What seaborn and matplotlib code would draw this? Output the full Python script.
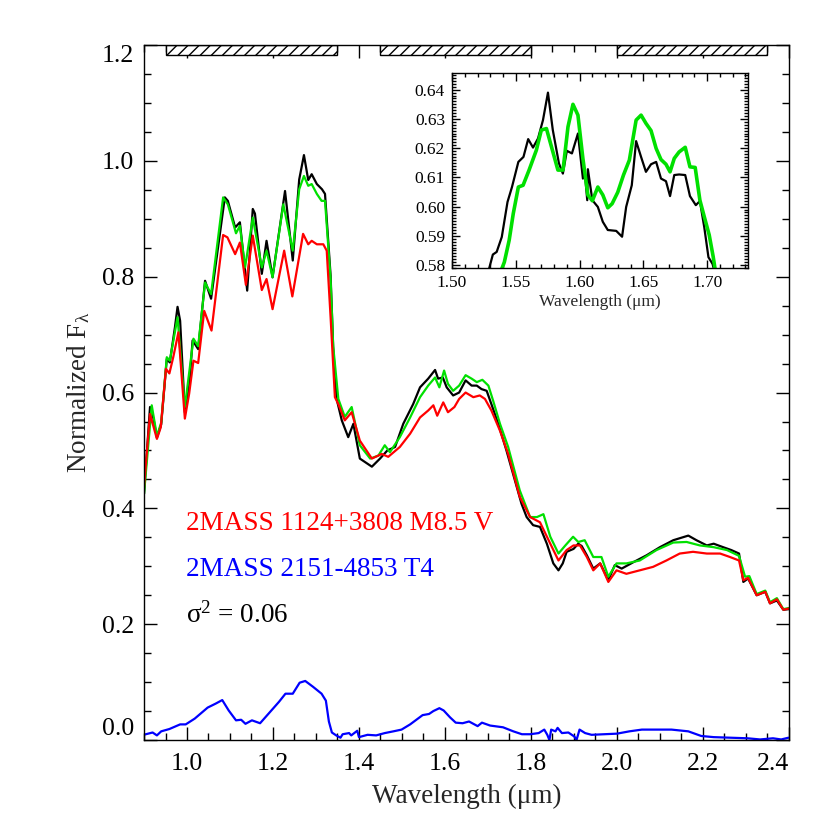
import matplotlib
matplotlib.use("Agg")
import matplotlib.pyplot as plt
from matplotlib.patches import Rectangle
from matplotlib.ticker import MultipleLocator
import seaborn as sns

# black: target spectrum, green: composite fit, red: M8.5 V standard, blue: T4 component
wl_black = [0.900, 0.914, 0.922, 0.930, 0.940, 0.953, 0.960, 0.972, 0.978, 0.984, 0.995, 1.005, 1.013,
            1.026, 1.042, 1.056, 1.088, 1.095, 1.112, 1.123, 1.140, 1.153, 1.158, 1.174, 1.185, 1.199,
            1.228, 1.246, 1.261, 1.272, 1.282, 1.290, 1.302, 1.314, 1.321, 1.334, 1.340, 1.348, 1.360,
            1.375, 1.387, 1.402, 1.414, 1.430, 1.449, 1.466, 1.484, 1.503, 1.526, 1.542, 1.561, 1.577,
            1.584, 1.595, 1.604, 1.619, 1.633, 1.648, 1.662, 1.674, 1.685, 1.697, 1.708, 1.724, 1.743,
            1.767, 1.778, 1.790, 1.805, 1.821, 1.837, 1.852, 1.864, 1.874, 1.883, 1.899, 1.910, 1.918,
            1.930, 1.945, 1.961, 1.980, 1.995, 2.011, 2.038, 2.069, 2.100, 2.131, 2.166, 2.185, 2.209,
            2.225, 2.247, 2.266, 2.284, 2.294, 2.305, 2.325, 2.345, 2.356, 2.372, 2.387, 2.400]
fl_black = [0.425, 0.575, 0.555, 0.522, 0.545, 0.658, 0.652, 0.713, 0.748, 0.724, 0.566, 0.610, 0.690,
            0.675, 0.793, 0.762, 0.937, 0.931, 0.885, 0.894, 0.776, 0.917, 0.909, 0.805, 0.862, 0.799,
            0.948, 0.828, 0.968, 1.010, 0.967, 0.977, 0.960, 0.951, 0.943, 0.802, 0.678, 0.589, 0.552,
            0.523, 0.546, 0.486, 0.480, 0.472, 0.486, 0.500, 0.506, 0.546, 0.580, 0.609, 0.624, 0.639,
            0.624, 0.626, 0.609, 0.595, 0.600, 0.621, 0.612, 0.612, 0.606, 0.603, 0.580, 0.546, 0.500,
            0.437, 0.408, 0.385, 0.371, 0.368, 0.339, 0.305, 0.293, 0.305, 0.325, 0.330, 0.339, 0.335,
            0.319, 0.296, 0.305, 0.276, 0.302, 0.296, 0.307, 0.319, 0.333, 0.345, 0.353, 0.345, 0.336,
            0.339, 0.333, 0.328, 0.322, 0.273, 0.279, 0.250, 0.256, 0.236, 0.241, 0.225, 0.226]

wl_green = [0.900, 0.918, 0.930, 0.940, 0.953, 0.960, 0.978, 0.995, 1.015, 1.026, 1.042, 1.056, 1.084,
            1.095, 1.114, 1.123, 1.135, 1.153, 1.174, 1.185, 1.199, 1.224, 1.246, 1.261, 1.272, 1.282,
            1.290, 1.302, 1.313, 1.321, 1.334, 1.340, 1.352, 1.367, 1.383, 1.402, 1.426, 1.445, 1.460,
            1.472, 1.495, 1.519, 1.542, 1.561, 1.577, 1.587, 1.598, 1.607, 1.619, 1.633, 1.648, 1.662,
            1.674, 1.687, 1.701, 1.712, 1.728, 1.747, 1.774, 1.798, 1.814, 1.829, 1.845, 1.864, 1.880,
            1.898, 1.910, 1.925, 1.945, 1.964, 1.980, 1.999, 2.022, 2.053, 2.092, 2.131, 2.162, 2.193,
            2.225, 2.256, 2.284, 2.298, 2.308, 2.325, 2.345, 2.356, 2.372, 2.387, 2.400]
fl_green = [0.425, 0.578, 0.525, 0.548, 0.661, 0.655, 0.730, 0.575, 0.693, 0.680, 0.790, 0.770, 0.937,
            0.925, 0.875, 0.888, 0.816, 0.902, 0.816, 0.845, 0.799, 0.925, 0.845, 0.951, 0.974, 0.957,
            0.960, 0.943, 0.931, 0.931, 0.796, 0.680, 0.589, 0.558, 0.575, 0.509, 0.486, 0.491, 0.509,
            0.497, 0.523, 0.557, 0.592, 0.612, 0.626, 0.609, 0.638, 0.615, 0.603, 0.612, 0.630, 0.624,
            0.618, 0.622, 0.612, 0.586, 0.546, 0.506, 0.431, 0.385, 0.385, 0.390, 0.351, 0.322, 0.336,
            0.351, 0.342, 0.345, 0.316, 0.316, 0.282, 0.305, 0.305, 0.310, 0.328, 0.341, 0.342, 0.336,
            0.333, 0.328, 0.318, 0.282, 0.283, 0.252, 0.258, 0.238, 0.245, 0.226, 0.228]

wl_red = [0.898, 0.914, 0.930, 0.939, 0.951, 0.959, 0.968, 0.980, 0.995, 1.005, 1.015, 1.026, 1.040,
          1.057, 1.084, 1.094, 1.112, 1.123, 1.137, 1.153, 1.174, 1.185, 1.199, 1.226, 1.245, 1.270,
          1.282, 1.290, 1.302, 1.317, 1.325, 1.334, 1.344, 1.352, 1.367, 1.383, 1.402, 1.430, 1.453,
          1.468, 1.495, 1.519, 1.542, 1.561, 1.573, 1.582, 1.596, 1.607, 1.622, 1.633, 1.648, 1.666,
          1.681, 1.693, 1.708, 1.728, 1.747, 1.774, 1.798, 1.821, 1.845, 1.864, 1.883, 1.899, 1.914,
          1.930, 1.945, 1.961, 1.980, 1.999, 2.022, 2.053, 2.084, 2.115, 2.146, 2.177, 2.209, 2.240,
          2.263, 2.284, 2.294, 2.305, 2.325, 2.345, 2.356, 2.372, 2.387, 2.400]
fl_red = [0.419, 0.563, 0.520, 0.540, 0.641, 0.633, 0.661, 0.704, 0.555, 0.598, 0.655, 0.651, 0.741,
          0.707, 0.872, 0.868, 0.839, 0.859, 0.786, 0.871, 0.777, 0.796, 0.744, 0.845, 0.766, 0.874,
          0.856, 0.862, 0.856, 0.856, 0.845, 0.730, 0.592, 0.580, 0.552, 0.566, 0.517, 0.486, 0.494,
          0.489, 0.506, 0.529, 0.557, 0.569, 0.578, 0.560, 0.583, 0.566, 0.575, 0.589, 0.600, 0.592,
          0.595, 0.589, 0.569, 0.534, 0.494, 0.420, 0.385, 0.376, 0.339, 0.310, 0.328, 0.336, 0.336,
          0.316, 0.293, 0.305, 0.273, 0.293, 0.287, 0.293, 0.299, 0.310, 0.322, 0.325, 0.322, 0.322,
          0.316, 0.310, 0.276, 0.280, 0.250, 0.256, 0.236, 0.243, 0.225, 0.227]

wl_blue = [0.899, 0.920, 0.930, 0.940, 0.959, 0.984, 0.997, 1.018, 1.048, 1.067, 1.082, 1.097, 1.114,
           1.126, 1.136, 1.151, 1.170, 1.195, 1.214, 1.229, 1.246, 1.262, 1.275, 1.293, 1.313, 1.323,
           1.330, 1.337, 1.347, 1.357, 1.362, 1.377, 1.382, 1.396, 1.400, 1.420, 1.440, 1.460, 1.480,
           1.499, 1.519, 1.548, 1.563, 1.573, 1.587, 1.597, 1.612, 1.625, 1.641, 1.656, 1.676, 1.686,
           1.705, 1.735, 1.759, 1.779, 1.798, 1.818, 1.831, 1.838, 1.843, 1.847, 1.857, 1.862, 1.872,
           1.887, 1.901, 1.906, 1.913, 1.926, 1.941, 1.970, 2.000, 2.029, 2.058, 2.088, 2.127, 2.166,
           2.196, 2.225, 2.264, 2.304, 2.333, 2.363, 2.382, 2.399]
fl_blue = [0.009, 0.013, 0.008, 0.015, 0.019, 0.027, 0.027, 0.037, 0.056, 0.063, 0.069, 0.051, 0.034,
           0.035, 0.028, 0.034, 0.029, 0.050, 0.066, 0.080, 0.080, 0.099, 0.102, 0.092, 0.080, 0.068,
           0.032, 0.013, 0.008, 0.004, 0.010, 0.012, 0.008, 0.016, 0.005, 0.009, 0.008, 0.012, 0.015,
           0.018, 0.027, 0.043, 0.045, 0.050, 0.055, 0.051, 0.039, 0.030, 0.029, 0.032, 0.024, 0.030,
           0.025, 0.022, 0.015, 0.010, 0.010, 0.012, 0.018, 0.009, 0.000, 0.018, 0.015, 0.021, 0.012,
           0.013, 0.006, 0.000, 0.018, 0.012, 0.009, 0.010, 0.011, 0.015, 0.018, 0.018, 0.018, 0.015,
           0.007, 0.005, 0.004, 0.003, 0.001, 0.003, 0.001, 0.004]

# inset: zoom on the H-band peak
wl_ins_black = [1.528, 1.532, 1.535, 1.539, 1.5435, 1.547, 1.552, 1.556, 1.5597, 1.5635, 1.5674, 1.5713,
                1.5752, 1.579, 1.5838, 1.5869, 1.590, 1.594, 1.5987, 1.6026, 1.6039, 1.606, 1.6065,
                1.610, 1.6143, 1.6182, 1.6221, 1.6287, 1.6333, 1.6365, 1.6409, 1.6443, 1.6482, 1.652,
                1.656, 1.660, 1.6638, 1.6677, 1.6709, 1.6742, 1.678, 1.6828, 1.6865, 1.6911, 1.6943,
                1.6977, 1.701, 1.7042, 1.7063]
fl_ins_black = [0.5770, 0.5836, 0.5845, 0.5896, 0.6016, 0.6067, 0.6153, 0.6170, 0.6231, 0.6202, 0.6233,
                0.6296, 0.6390, 0.6262, 0.6148, 0.6113, 0.6191, 0.6182, 0.6250, 0.6096, 0.6125, 0.6022,
                0.6128, 0.6022, 0.5999, 0.5948, 0.5920, 0.5917, 0.5897, 0.5999, 0.6073, 0.6224, 0.6170,
                0.6119, 0.6145, 0.6153, 0.6096, 0.6087, 0.6036, 0.6108, 0.6110, 0.6108, 0.6036, 0.6005,
                0.6019, 0.5930, 0.5827, 0.5804, 0.5770]

wl_ins_green = [1.5375, 1.541, 1.5448, 1.548, 1.552, 1.5557, 1.5604, 1.5661, 1.570, 1.574, 1.5787, 1.583,
                1.587, 1.5909, 1.5948, 1.5987, 1.6026, 1.6065, 1.610, 1.6143, 1.6182, 1.6221, 1.6255,
                1.6299, 1.6344, 1.639, 1.6443, 1.6482, 1.652, 1.656, 1.660, 1.6638, 1.6677, 1.6709,
                1.6742, 1.678, 1.6828, 1.6865, 1.6906, 1.6943, 1.6977, 1.7016, 1.7047, 1.7068]
fl_ins_green = [0.5770, 0.5810, 0.5885, 0.5976, 0.6067, 0.6073, 0.6125, 0.6193, 0.6262, 0.6267, 0.6193,
                0.6125, 0.6125, 0.6273, 0.6350, 0.6313, 0.6164, 0.6040, 0.6020, 0.6067, 0.6040, 0.5996,
                0.6010, 0.6049, 0.6108, 0.6159, 0.6296, 0.6313, 0.6285, 0.6260, 0.6199, 0.6161, 0.6145,
                0.6119, 0.6165, 0.6187, 0.6203, 0.6136, 0.6134, 0.6022, 0.5966, 0.5903, 0.5829, 0.5770]

# hatched regions along the top (start, end in micron)
band_lo = [0.95, 1.45, 2.00]
band_hi = [1.35, 1.80, 2.35]

label_red = "2MASS 1124+3808 M8.5 V"
label_blue = "2MASS 2151-4853 T4"
label_sigma = "σ$^2$ = 0.06"

sns.set_style("ticks")
plt.rcParams["font.family"] = ["Liberation Serif", "DejaVu Serif"]
plt.rcParams["mathtext.fontset"] = "custom"
plt.rcParams["mathtext.rm"] = "Liberation Serif"
plt.rcParams["mathtext.it"] = "Liberation Serif"
plt.rcParams["mathtext.default"] = "regular"
plt.rcParams["hatch.linewidth"] = 1.0

fig = plt.figure(figsize=(8.3, 8.3), dpi=100)
ax = fig.add_axes([0.1735, 0.1084, 0.777, 0.8373])

sns.lineplot(x=wl_blue, y=fl_blue, color="#0000ff", lw=1.6, ax=ax)
sns.lineplot(x=wl_black, y=fl_black, color="black", lw=1.6, ax=ax)
sns.lineplot(x=wl_green, y=fl_green, color="#00e000", lw=1.6, ax=ax)
sns.lineplot(x=wl_red, y=fl_red, color="#ff0000", lw=1.6, ax=ax)

for lo, hi in zip(band_lo, band_hi):
    ax.add_patch(Rectangle((lo, 1.182), hi - lo, 0.018, facecolor="white", edgecolor="black",
                           hatch="///", lw=1.0, zorder=1))

ax.set_xlim(0.9, 2.4)
ax.set_ylim(0.0, 1.2)
ax.xaxis.set_minor_locator(MultipleLocator(0.05))
ax.yaxis.set_minor_locator(MultipleLocator(0.05))
ax.set_xticks([1.0, 1.2, 1.4, 1.6, 1.8, 2.0, 2.2, 2.4])
ax.set_xticklabels(["1.0", "1.2", "1.4", "1.6", "1.8", "2.0", "2.2", "2.4"])
ax.set_yticks([0.0, 0.2, 0.4, 0.6, 0.8, 1.0, 1.2])
ax.set_yticklabels(["0.0", "0.2", "0.4", "0.6", "0.8", "1.0", "1.2"])
ax.tick_params(which="both", direction="in", top=True, right=True, width=1.0, colors="black")
ax.tick_params(which="major", length=9.5)
ax.tick_params(which="minor", length=5)
ax.tick_params(axis="x", labelsize=18.5, pad=9)
ax.tick_params(axis="y", labelsize=18.5, pad=7)
ylabs = ax.get_yticklabels()
ylabs[0].set_va("bottom")
ylabs[-1].set_va("top")
ax.get_xticklabels()[-1].set_ha("right")
for sp in ax.spines.values():
    sp.set_linewidth(1.0)
    sp.set_color("black")

ax.set_xlabel("Wavelength (μm)", fontsize=19.5, labelpad=7)
ax.set_ylabel("Normalized F$_{λ}$", fontsize=19.5, labelpad=7)

ax.text(0.998, 0.374, label_red, color="#ff0000", fontsize=19.5, va="center", ha="left")
ax.text(0.998, 0.295, label_blue, color="#0000ff", fontsize=19.5, va="center", ha="left")
ax.text(0.998, 0.216, label_sigma, color="black", fontsize=19.5, va="center", ha="left")

# inset
axi = fig.add_axes([0.5446, 0.6771, 0.3566, 0.2349])
axi.set_facecolor("white")
sns.lineplot(x=wl_ins_black, y=fl_ins_black, color="black", lw=1.6, ax=axi)
sns.lineplot(x=wl_ins_green, y=fl_ins_green, color="#00e000", lw=2.6, ax=axi)
axi.set_xlim(1.50, 1.732)
axi.set_ylim(0.579, 0.6457)
axi.set_xticks([1.50, 1.55, 1.60, 1.65, 1.70])
axi.set_xticklabels(["1.50", "1.55", "1.60", "1.65", "1.70"])
axi.set_yticks([0.58, 0.59, 0.60, 0.61, 0.62, 0.63, 0.64])
axi.set_yticklabels(["0.58", "0.59", "0.60", "0.61", "0.62", "0.63", "0.64"])
axi.xaxis.set_minor_locator(MultipleLocator(0.01))
axi.yaxis.set_minor_locator(MultipleLocator(0.001))
axi.tick_params(which="both", direction="in", top=True, right=True, width=1.0, colors="black")
axi.tick_params(which="major", length=6)
axi.tick_params(which="minor", length=3)
axi.tick_params(labelsize=12.5, pad=5)
for sp in axi.spines.values():
    sp.set_linewidth(1.0)
    sp.set_color("black")
axi.set_xlabel("Wavelength (μm)", fontsize=12.5, labelpad=2)
axi.set_ylabel("")

fig.savefig("out.png", dpi=100)
